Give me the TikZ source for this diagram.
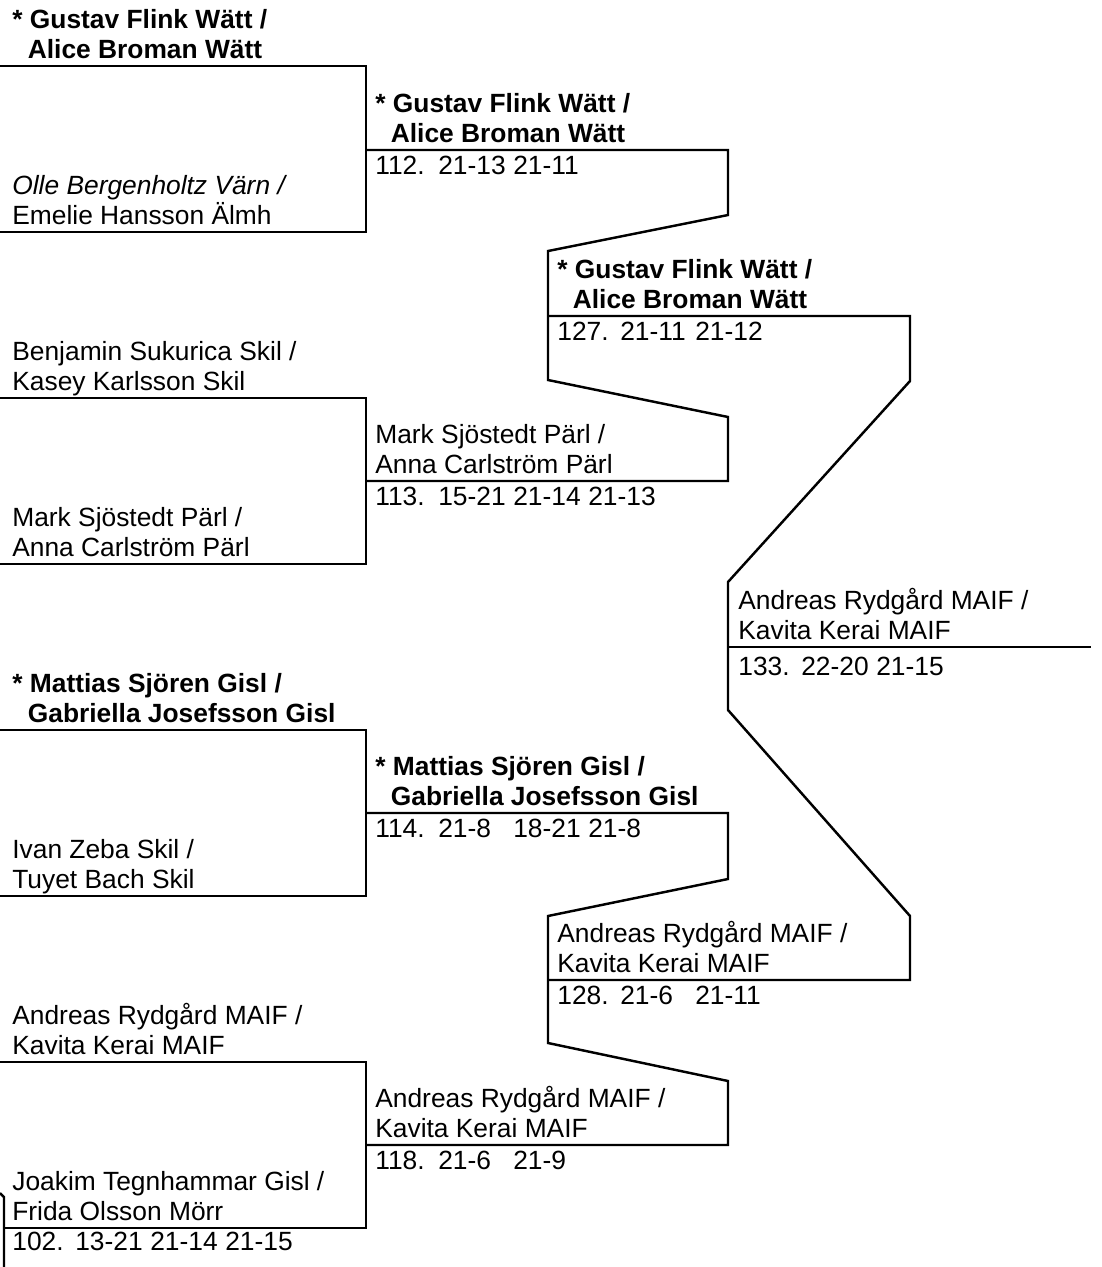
\documentclass[tikz,border=0pt]{standalone}
\usepackage{fontspec}
\setmainfont{Liberation Sans}
\usetikzlibrary{backgrounds}
\pgfdeclarelayer{edgelayer}
\pgfdeclarelayer{nodelayer}
\pgfsetlayers{edgelayer,nodelayer,main}
\tikzset{font=\fontsize{15pt}{16.8pt}\selectfont}
\tikzstyle{none}=[inner sep=0pt]
\tikzstyle{pair}=[inner sep=0pt, anchor=base west, align=left]
\tikzstyle{seeded}=[style=pair, font=\fontsize{15pt}{16.8pt}\selectfont\bfseries]
\tikzstyle{bracket}=[line width=1.4pt, line join=miter]
\newcommand{\seedgap}{\hspace*{0.31cm}}
\newcommand{\games}[4]{\makebox[1.26cm][l]{#1}\makebox[1.5cm][l]{#2}\makebox[1.5cm][l]{#3}#4}

\begin{document}
\begin{tikzpicture}
	\useasboundingbox (0, 0) rectangle (22.02, -25.34);
	\begin{pgfonlayer}{nodelayer}
		% round 1
		\node [style=none] (0) at (0, -1.32) {};
		\node [style=none] (1) at (7.32, -1.32) {};
		\node [style=none] (2) at (7.32, -4.64) {};
		\node [style=none] (3) at (0, -4.64) {};
		\node [style=none] (4) at (0, -7.96) {};
		\node [style=none] (5) at (7.32, -7.96) {};
		\node [style=none] (6) at (7.32, -11.28) {};
		\node [style=none] (7) at (0, -11.28) {};
		\node [style=none] (8) at (0, -14.6) {};
		\node [style=none] (9) at (7.32, -14.6) {};
		\node [style=none] (10) at (7.32, -17.92) {};
		\node [style=none] (11) at (0, -17.92) {};
		\node [style=none] (12) at (0, -21.24) {};
		\node [style=none] (13) at (7.32, -21.24) {};
		\node [style=none] (14) at (7.32, -24.56) {};
		\node [style=none] (15) at (0.08, -24.56) {};
		\node [style=none] (16) at (0, -23.86) {};
		\node [style=none] (17) at (0.08, -23.94) {};
		\node [style=none] (18) at (0.08, -25.34) {};
		% round 2
		\node [style=none] (19) at (7.32, -3.0) {};
		\node [style=none] (20) at (14.56, -3.0) {};
		\node [style=none] (21) at (14.56, -4.3) {};
		\node [style=none] (22) at (10.96, -5.02) {};
		\node [style=none] (23) at (10.96, -7.6) {};
		\node [style=none] (24) at (14.56, -8.34) {};
		\node [style=none] (25) at (14.56, -9.62) {};
		\node [style=none] (26) at (7.32, -9.62) {};
		\node [style=none] (27) at (7.32, -16.26) {};
		\node [style=none] (28) at (14.56, -16.26) {};
		\node [style=none] (29) at (14.56, -17.58) {};
		\node [style=none] (30) at (10.96, -18.32) {};
		\node [style=none] (31) at (10.96, -20.86) {};
		\node [style=none] (32) at (14.56, -21.62) {};
		\node [style=none] (33) at (14.56, -22.9) {};
		\node [style=none] (34) at (7.32, -22.9) {};
		% round 3 and final
		\node [style=none] (35) at (10.96, -6.32) {};
		\node [style=none] (36) at (18.2, -6.32) {};
		\node [style=none] (37) at (18.2, -7.62) {};
		\node [style=none] (38) at (14.56, -11.64) {};
		\node [style=none] (39) at (14.56, -14.2) {};
		\node [style=none] (40) at (18.2, -18.32) {};
		\node [style=none] (41) at (18.2, -19.6) {};
		\node [style=none] (42) at (10.96, -19.6) {};
		\node [style=none] (43) at (14.56, -12.94) {};
		\node [style=none] (44) at (21.82, -12.94) {};
		% names and results
		\node [style=seeded] (45) at (0.24, -1.16) {* Gustav Flink Wätt /\\\seedgap Alice Broman Wätt};
		\node [style=pair] (46) at (0.24, -4.48) {\textit{Olle Bergenholtz Värn /}\\Emelie Hansson Älmh};
		\node [style=pair] (47) at (0.24, -7.8) {Benjamin Sukurica Skil /\\Kasey Karlsson Skil};
		\node [style=pair] (48) at (0.24, -11.12) {Mark Sjöstedt Pärl /\\Anna Carlström Pärl};
		\node [style=seeded] (49) at (0.24, -14.44) {* Mattias Sjören Gisl /\\\seedgap Gabriella Josefsson Gisl};
		\node [style=pair] (50) at (0.24, -17.76) {Ivan Zeba Skil /\\Tuyet Bach Skil};
		\node [style=pair] (51) at (0.24, -21.08) {Andreas Rydgård MAIF /\\Kavita Kerai MAIF};
		\node [style=pair] (52) at (0.24, -24.4) {Joakim Tegnhammar Gisl /\\Frida Olsson Mörr};
		\node [style=pair] (53) at (0.24, -25.0) {\games{102.}{13-21}{21-14}{21-15}};
		\node [style=seeded] (54) at (7.5, -2.84) {* Gustav Flink Wätt /\\\seedgap Alice Broman Wätt};
		\node [style=pair] (55) at (7.5, -3.48) {\games{112.}{21-13}{21-11}{}};
		\node [style=pair] (56) at (7.5, -9.46) {Mark Sjöstedt Pärl /\\Anna Carlström Pärl};
		\node [style=pair] (57) at (7.5, -10.1) {\games{113.}{15-21}{21-14}{21-13}};
		\node [style=seeded] (58) at (7.5, -16.1) {* Mattias Sjören Gisl /\\\seedgap Gabriella Josefsson Gisl};
		\node [style=pair] (59) at (7.5, -16.74) {\games{114.}{21-8}{18-21}{21-8}};
		\node [style=pair] (60) at (7.5, -22.74) {Andreas Rydgård MAIF /\\Kavita Kerai MAIF};
		\node [style=pair] (61) at (7.5, -23.38) {\games{118.}{21-6}{21-9}{}};
		\node [style=seeded] (62) at (11.14, -6.16) {* Gustav Flink Wätt /\\\seedgap Alice Broman Wätt};
		\node [style=pair] (63) at (11.14, -6.8) {\games{127.}{21-11}{21-12}{}};
		\node [style=pair] (64) at (11.14, -19.44) {Andreas Rydgård MAIF /\\Kavita Kerai MAIF};
		\node [style=pair] (65) at (11.14, -20.08) {\games{128.}{21-6}{21-11}{}};
		\node [style=pair] (66) at (14.76, -12.78) {Andreas Rydgård MAIF /\\Kavita Kerai MAIF};
		\node [style=pair] (67) at (14.76, -13.5) {\games{133.}{22-20}{21-15}{}};
	\end{pgfonlayer}
	\begin{pgfonlayer}{edgelayer}
		\draw [style=bracket] (0.center) to (1.center) to (2.center) to (3.center);
		\draw [style=bracket] (4.center) to (5.center) to (6.center) to (7.center);
		\draw [style=bracket] (8.center) to (9.center) to (10.center) to (11.center);
		\draw [style=bracket] (12.center) to (13.center) to (14.center) to (15.center);
		\draw [style=bracket] (16.center) to (17.center) to (18.center);
		\draw [style=bracket] (19.center) to (20.center) to (21.center) to (22.center) to (23.center) to (24.center) to (25.center) to (26.center);
		\draw [style=bracket] (27.center) to (28.center) to (29.center) to (30.center) to (31.center) to (32.center) to (33.center) to (34.center);
		\draw [style=bracket] (35.center) to (36.center) to (37.center) to (38.center) to (39.center) to (40.center) to (41.center) to (42.center);
		\draw [style=bracket] (43.center) to (44.center);
	\end{pgfonlayer}
\end{tikzpicture}
\end{document}
